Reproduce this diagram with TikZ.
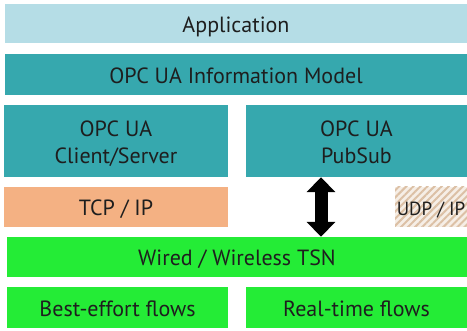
\documentclass[tikz,border=0pt]{standalone}
\usepackage{fontspec}
\setmainfont{PT Sans}
\usepackage{tikz}
\usetikzlibrary{arrows.meta, positioning, patterns.meta}
\definecolor{appblue}{RGB}{181,221,230}
\definecolor{opcteal}{RGB}{54,168,174}
\definecolor{tcporange}{RGB}{244,177,131}
\definecolor{tsngreen}{RGB}{36,236,54}
\definecolor{udptan}{RGB}{220,192,165}
\definecolor{udpback}{RGB}{246,238,230}
\definecolor{labeltext}{RGB}{30,30,30}

\begin{document}
\begin{tikzpicture}[x=1pt, y=-1pt,
  layer/.style={rectangle, inner sep=0pt, text=labeltext, align=center,
    text height=18pt, text depth=0pt, font=\fontsize{22}{27}\selectfont},
  twoline/.style={text height=45pt},
  app/.style={layer, fill=appblue},
  opc/.style={layer, fill=opcteal},
  tcp/.style={layer, fill=tcporange},
  udp/.style={layer, preaction={fill=udpback}, font=\fontsize{19}{27}\selectfont,
    pattern={Lines[angle=45, distance=5pt, line width=2pt]}, pattern color=udptan},
  tsn/.style={layer, fill=tsngreen}]
  \useasboundingbox (0,0) rectangle (467,331);

  \node[app, minimum width=462pt, minimum height=39pt] (appl) at (236,23.5) {Application};
  \node[opc, minimum width=462pt, minimum height=41pt] (infomodel) at (236,74.5) {OPC UA Information Model};

  \node[opc, twoline, minimum width=224pt, minimum height=72pt] (clientserver) at (116,141) {OPC UA\\Client/Server};
  \node[opc, twoline, minimum width=221pt, minimum height=72pt] (pubsub) at (356.5,141) {OPC UA\\PubSub};

  \node[tcp, minimum width=224pt, minimum height=40pt] (tcpip) at (116,207) {TCP / IP};
  \node[udp, minimum width=72pt, minimum height=40pt] (udpip) at (431,207) {UDP / IP};

  \node[tsn, minimum width=460pt, minimum height=40pt] (wiredtsn) at (237,257) {Wired / Wireless TSN};

  \node[tsn, minimum width=221pt, minimum height=41pt] (besteffort) at (117.5,307.5) {Best-effort flows};
  \node[tsn, minimum width=221pt, minimum height=41pt] (realtime) at (356.5,307.5) {Real-time flows};

  % PubSub runs directly over TSN
  \coordinate (pstop) at ([xshift=-35.5pt]pubsub.south);
  \draw[{Triangle[width=28pt, length=15pt]}-{Triangle[width=28pt, length=15pt]}, line width=13pt]
    (pstop) -- (pstop |- wiredtsn.north);
\end{tikzpicture}
\end{document}
